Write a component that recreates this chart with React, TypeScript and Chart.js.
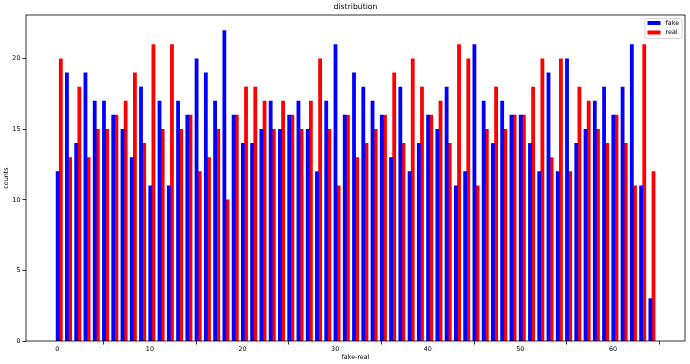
import React, { useEffect, useRef } from 'react';
import { Chart, registerables } from 'chart.js';

Chart.register(...registerables);

const categories = [
  0, 1, 2, 3, 4, 5, 6, 7, 8, 9, 10, 11, 12, 13, 14, 15, 16, 17, 18, 19, 20, 21,
  22, 23, 24, 25, 26, 27, 28, 29, 30, 31, 32, 33, 34, 35, 36, 37, 38, 39, 40, 41,
  42, 43, 44, 45, 46, 47, 48, 49, 50, 51, 52, 53, 54, 55, 56, 57, 58, 59, 60, 61,
  62, 63, 64,
];

const fakeCounts = [
  12, 19, 14, 19, 17, 17, 16, 15, 13, 18, 11, 17, 11, 17, 16, 20, 19,
  17, 22, 16, 14, 14, 15, 17, 15, 16, 17, 15, 12, 17, 21, 16, 19, 18,
  17, 16, 13, 18, 12, 14, 16, 15, 18, 11, 12, 21, 17, 14, 17, 16, 16,
  14, 12, 19, 12, 20, 14, 15, 17, 18, 16, 18, 21, 11, 3,
];

const realCounts = [
  20, 13, 18, 13, 15, 15, 16, 17, 19, 14, 21, 15, 21, 15, 16, 12, 13,
  15, 10, 16, 18, 18, 17, 15, 17, 16, 15, 17, 20, 15, 11, 16, 13, 14,
  15, 16, 19, 14, 20, 18, 16, 17, 14, 21, 20, 11, 15, 18, 15, 16, 16,
  18, 20, 13, 20, 12, 18, 17, 15, 14, 16, 14, 11, 21, 12,
];

const xTicks = [0, 10, 20, 30, 40, 50, 60];
const yTicks = [0, 5, 10, 15, 20];

const FONT = "'DejaVu Sans', sans-serif";

const framePlugin = {
  id: 'frame',
  afterDatasetsDraw(chart: any) {
    const { ctx, chartArea } = chart;
    ctx.save();
    ctx.strokeStyle = '#000';
    ctx.lineWidth = 0.8;
    ctx.strokeRect(chartArea.left, chartArea.top, chartArea.right - chartArea.left, chartArea.bottom - chartArea.top);
    ctx.restore();
  },
};

const titlePlugin = {
  id: 'mplTitle',
  afterDraw(chart: any) {
    const { ctx, chartArea } = chart;
    ctx.save();
    ctx.fillStyle = '#000';
    ctx.font = `7.7px ${FONT}`;
    ctx.textAlign = 'center';
    ctx.textBaseline = 'middle';
    ctx.fillText('distribution', (chartArea.left + chartArea.right) / 2, 7.5);
    ctx.restore();
  },
};

const legendPlugin = {
  id: 'mplLegend',
  afterDraw(chart: any) {
    const { ctx, chartArea } = chart;
    const w = 37;
    const h = 20;
    const bx = chartArea.right - 3 - w;
    const by = chartArea.top + 3.5;
    ctx.save();
    ctx.fillStyle = 'rgba(255,255,255,0.8)';
    ctx.strokeStyle = '#cccccc';
    ctx.lineWidth = 0.8;
    ctx.beginPath();
    (ctx as any).roundRect(bx, by, w, h, 2);
    ctx.fill();
    ctx.stroke();
    ctx.font = `6.4px ${FONT}`;
    ctx.textBaseline = 'middle';
    ctx.textAlign = 'left';
    chart.data.datasets.forEach((ds: any, i: number) => {
      const cy = by + 4.5 + i * 9.5;
      ctx.fillStyle = ds.backgroundColor;
      ctx.fillRect(bx + 2.5, cy - 2, 13, 4);
      ctx.fillStyle = '#000';
      ctx.fillText(ds.label, bx + 20.5, cy);
    });
    ctx.restore();
  },
};

export default function App() {
  const ref = useRef<HTMLCanvasElement | null>(null);

  useEffect(() => {
    document.body.style.margin = '0';
    const canvas = ref.current;
    if (!canvas) return;
    const chart = new Chart(canvas, {
      type: 'bar',
      data: {
        datasets: [
          {
            label: 'fake',
            data: categories.map((c, i) => ({ x: c + 0.04, y: fakeCounts[i] })),
            backgroundColor: '#0000ff',
            borderWidth: 0,
            barThickness: 3.15,
            grouped: false,
          } as any,
          {
            label: 'real',
            data: categories.map((c, i) => ({ x: c + 0.38, y: realCounts[i] })),
            backgroundColor: '#ff0000',
            borderWidth: 0,
            barThickness: 3.15,
            grouped: false,
          } as any,
        ],
      },
      options: {
        responsive: false,
        animation: false,
        devicePixelRatio: 1,
        layout: { padding: { top: 15, right: 5, left: 0, bottom: 0 } },
        plugins: {
          legend: { display: false },
          title: { display: false },
          tooltip: { enabled: false },
        },
        scales: {
          x: {
            type: 'linear',
            min: -3.38,
            max: 67.78,
            offset: false,
            afterBuildTicks: (scale: any) => {
              scale.ticks = xTicks.map((v) => ({ value: v }));
            },
            afterFit: (scale: any) => {
              scale.height = 23;
            },
            grid: {
              display: true,
              drawOnChartArea: false,
              drawTicks: true,
              tickLength: 3.5,
              color: '#000',
              lineWidth: 0.8,
            },
            border: { display: false },
            ticks: {
              color: '#000',
              font: { family: FONT, size: 6.4 },
              padding: 1,
              maxRotation: 0,
              autoSkip: false,
            },
            title: {
              display: true,
              text: 'fake-real',
              color: '#000',
              font: { family: FONT, size: 6.4 },
              padding: { top: 0, bottom: 3 },
            },
          },
          y: {
            type: 'linear',
            min: 0,
            max: 23.1,
            afterBuildTicks: (scale: any) => {
              scale.ticks = yTicks.map((v) => ({ value: v }));
            },
            afterFit: (scale: any) => {
              scale.width = 26;
            },
            grid: {
              display: true,
              drawOnChartArea: false,
              drawTicks: true,
              tickLength: 3.5,
              color: '#000',
              lineWidth: 0.8,
            },
            border: { display: false },
            ticks: {
              color: '#000',
              font: { family: FONT, size: 6.4 },
              padding: 2,
              autoSkip: false,
            },
            title: {
              display: true,
              text: 'counts',
              color: '#000',
              font: { family: FONT, size: 6.4 },
              padding: { top: 3, bottom: 0 },
            },
          },
        },
      } as any,
      plugins: [framePlugin, titlePlugin, legendPlugin],
    });
    return () => chart.destroy();
  }, []);

  return (
    <div style={{ width: 690, height: 364, background: '#fff' }}>
      <canvas ref={ref} width={690} height={364} style={{ display: 'block', width: 690, height: 364 }} />
    </div>
  );
}
